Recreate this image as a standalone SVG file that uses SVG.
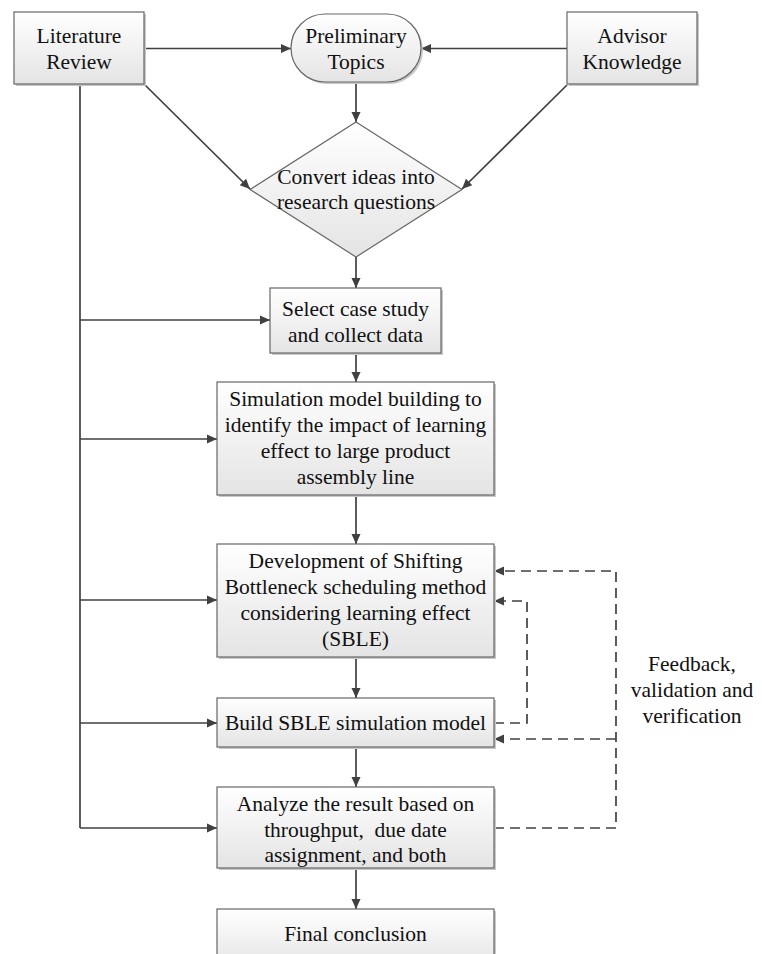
<svg xmlns="http://www.w3.org/2000/svg" width="762" height="954" viewBox="0 0 762 954">
<defs>
<linearGradient id="g" x1="0" y1="0" x2="0" y2="1">
<stop offset="0" stop-color="#ffffff"/>
<stop offset="1" stop-color="#e4e4e4"/>
</linearGradient>
<marker id="ah" viewBox="0 0 10 10" refX="10" refY="5" markerWidth="10" markerHeight="10" markerUnits="userSpaceOnUse" orient="auto">
<path d="M0,0.5 L10,5 L0,9.5 z" fill="#404040"/>
</marker>
</defs>
<style>
.box{fill:url(#g);stroke:#666;stroke-width:1.2}
.sh{fill:#c8c8c8}
.t{font-family:"Liberation Serif","Times New Roman",serif;font-size:21.5px;fill:#111;text-anchor:middle}
.c{fill:none;stroke:#404040;stroke-width:1.7}
.a{marker-end:url(#ah)}
.d{stroke-dasharray:10 6}
</style>
<rect width="762" height="954" fill="#fff"/>
<g id="connectors">
<line class="c a" x1="144" y1="48.5" x2="291" y2="48.5"/>
<line class="c a" x1="567" y1="48.5" x2="421" y2="48.5"/>
<line class="c a" x1="356" y1="82" x2="356" y2="122"/>
<line class="c a" x1="144" y1="84" x2="250" y2="189"/>
<line class="c a" x1="567" y1="85" x2="462" y2="189"/>
<line class="c a" x1="356" y1="257" x2="356" y2="288"/>
<line class="c" x1="80" y1="84" x2="80" y2="828"/>
<line class="c a" x1="80" y1="320" x2="270" y2="320"/>
<line class="c a" x1="80" y1="439" x2="217" y2="439"/>
<line class="c a" x1="80" y1="600" x2="217" y2="600"/>
<line class="c a" x1="80" y1="723" x2="217" y2="723"/>
<line class="c a" x1="80" y1="828" x2="217" y2="828"/>
<line class="c a" x1="356" y1="353" x2="356" y2="382"/>
<line class="c a" x1="356" y1="495" x2="356" y2="544"/>
<line class="c a" x1="356" y1="657" x2="356" y2="698"/>
<line class="c a" x1="356" y1="747" x2="356" y2="787"/>
<line class="c a" x1="356" y1="868" x2="356" y2="909"/>
<polyline class="c d a" points="494,723 527,723 527,601 494,601"/>
<polyline class="c d a" points="494,828 616,828 616,571 494,571"/>
<line class="c d a" x1="616" y1="739" x2="494" y2="739"/>
</g>
<g id="literature-review">
<rect class="sh" x="16" y="14" width="130" height="72"/>
<rect class="box" x="14" y="12" width="130" height="72"/>
<text class="t" x="79" y="43">Literature</text>
<text class="t" x="79" y="68.5">Review</text>
</g>
<g id="preliminary-topics">
<rect class="sh" x="293" y="16" width="130" height="68" rx="34"/>
<rect class="box" x="291" y="14" width="130" height="68" rx="34"/>
<text class="t" x="356" y="43">Preliminary</text>
<text class="t" x="356" y="68.5">Topics</text>
</g>
<g id="advisor-knowledge">
<rect class="sh" x="569" y="14" width="130" height="72"/>
<rect class="box" x="567" y="12" width="130" height="72"/>
<text class="t" x="632" y="43">Advisor</text>
<text class="t" x="632" y="68.5">Knowledge</text>
</g>
<g id="convert-ideas">
<polygon class="box" points="356,122 462,189.5 356,257 250,189.5"/>
<text class="t" x="356" y="183.5">Convert ideas into</text>
<text class="t" x="356" y="208.5">research questions</text>
</g>
<g id="select-case">
<rect class="sh" x="272" y="290" width="171" height="65"/>
<rect class="box" x="270" y="288" width="171" height="65"/>
<text class="t" x="355.5" y="316">Select case study</text>
<text class="t" x="355.5" y="342">and collect data</text>
</g>
<g id="simulation-model">
<rect class="sh" x="219" y="384" width="277" height="113"/>
<rect class="box" x="217" y="382" width="277" height="113"/>
<text class="t" x="355.5" y="406">Simulation model building to</text>
<text class="t" x="355.5" y="432">identify the impact of learning</text>
<text class="t" x="355.5" y="458">effect to large product</text>
<text class="t" x="355.5" y="484">assembly line</text>
</g>
<g id="development-sble">
<rect class="sh" x="219" y="546" width="277" height="113"/>
<rect class="box" x="217" y="544" width="277" height="113"/>
<text class="t" x="355.5" y="567.5">Development of Shifting</text>
<text class="t" x="355.5" y="593.5">Bottleneck scheduling method</text>
<text class="t" x="355.5" y="620">considering learning effect</text>
<text class="t" x="355.5" y="646">(SBLE)</text>
</g>
<g id="build-sble">
<rect class="sh" x="219" y="700" width="277" height="49"/>
<rect class="box" x="217" y="698" width="277" height="49"/>
<text class="t" x="355.5" y="730">Build SBLE simulation model</text>
</g>
<g id="analyze-result">
<rect class="sh" x="219" y="789" width="277" height="81"/>
<rect class="box" x="217" y="787" width="277" height="81"/>
<text class="t" x="355.5" y="810.5">Analyze the result based on</text>
<text class="t" x="355.5" y="836.5" xml:space="preserve">throughput,  due date</text>
<text class="t" x="355.5" y="862">assignment, and both</text>
</g>
<g id="final-conclusion">
<rect class="sh" x="219" y="911" width="277" height="60"/>
<rect class="box" x="217" y="909" width="277" height="60"/>
<text class="t" x="355.5" y="941">Final conclusion</text>
</g>
<g id="feedback-label">
<text class="t" x="692" y="670.5">Feedback,</text>
<text class="t" x="692" y="696.5">validation and</text>
<text class="t" x="692" y="722.5">verification</text>
</g>
</svg>
